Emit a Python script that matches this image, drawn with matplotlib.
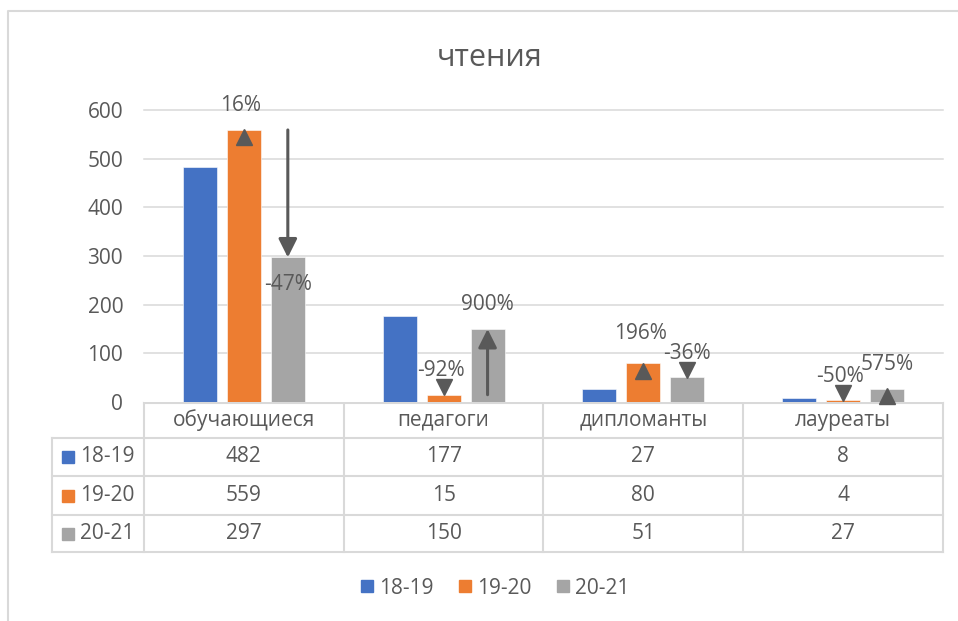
import matplotlib
matplotlib.use("Agg")
import matplotlib.pyplot as plt
import matplotlib.transforms as mtransforms
from matplotlib.lines import Line2D
import numpy as np

plt.rcParams['font.family'] = ['Open Sans', 'DejaVu Sans']

title = "чтения"
categories = ["обучающиеся", "педагоги", "дипломанты", "лауреаты"]
years = ["18-19", "19-20", "20-21"]
v1819 = [482, 177, 27, 8]
v1920 = [559, 15, 80, 4]
v2021 = [297, 150, 51, 27]
series = [v1819, v1920, v2021]
colors = ["#4472C4", "#ED7D31", "#A5A5A5"]
yticks = [0, 100, 200, 300, 400, 500, 600]

# which gray changes get a long arrow instead of a triangle
arrow_cats = [0, 1]

txt = "#595959"
grid = "#D9D9D9"
W, H = 958, 621
fs = 15

fig = plt.figure(figsize=(W / 100, H / 100), dpi=100)

def fx(px):
    return px / W

def fy(py):
    return 1 - py / H

# overlay for frame + table, in pixel coordinates
ov = fig.add_axes([0, 0, 1, 1])
ov.set_xlim(0, W)
ov.set_ylim(H, 0)
ov.axis("off")
ov.plot([8, 8, W + 5], [H + 5, 11, 11], color=grid, lw=1.5, solid_capstyle="butt")

L, R, T, B = 144, 943, 110, 402
ax = fig.add_axes([fx(L), fy(B), fx(R - L), (B - T) / H])
ax.set_xlim(-0.5, len(categories) - 0.5)
ax.set_ylim(0, 600)
for s in ax.spines.values():
    s.set_visible(False)
ax.set_xticks([])
ax.set_yticks(yticks)
ax.set_yticklabels([str(t) for t in yticks], color=txt, fontsize=fs)
ax.tick_params(axis="y", length=0, pad=15)
for t in yticks[1:]:
    ax.axhline(t, color=grid, lw=1.1, zorder=0, clip_on=False)

x = np.arange(len(categories))
offs = [-0.22, 0.0, 0.22]
bw = 0.17
for i, vals in enumerate(series):
    ax.bar(x + offs[i], vals, bw, color=colors[i], edgecolor="white", linewidth=0.4, zorder=2)

mk = "#595959"
up_t = mtransforms.offset_copy(ax.transData, fig=fig, x=0, y=-7.5, units="dots")
dn_t = mtransforms.offset_copy(ax.transData, fig=fig, x=0, y=7.5, units="dots")

for si in [1, 2]:
    prev = series[si - 1]
    cur = series[si]
    for c in range(len(categories)):
        pct = (cur[c] - prev[c]) / prev[c] * 100
        xc = c + offs[si]
        label = "%d%%" % round(pct)
        dy = 24
        if si == 2 and c in arrow_cats:
            ax.annotate("", xy=(xc, cur[c]), xytext=(xc, prev[c]),
                        arrowprops=dict(arrowstyle="-|>,head_length=0.8,head_width=0.4",
                                        color=mk, lw=2.2, shrinkA=0, shrinkB=0,
                                        mutation_scale=14), zorder=4)
            if pct < 0:
                dy = -27
        else:
            if pct >= 0:
                ax.plot([xc], [cur[c]], marker="^", ms=11, color=mk, transform=up_t,
                        zorder=4, clip_on=False)
            else:
                ax.plot([xc], [cur[c]], marker="v", ms=11, color=mk, transform=dn_t,
                        zorder=4, clip_on=False)
            if si == 1 and c == 2:
                dy = 30
        ax.annotate(label, xy=(xc, cur[c]), xytext=(-3 if si == 1 else 0, dy),
                    textcoords="offset pixels", ha="center", va="center",
                    color=txt, fontsize=fs, zorder=5, annotation_clip=False)

# data table
rows_y = [403, 438, 476, 515, 552]
col_x = [52] + [L + (R - L) / len(categories) * i for i in range(len(categories) + 1)]
lw_t = 1.5
ov.plot([L, R], [rows_y[0], rows_y[0]], color=grid, lw=lw_t)
for yy in rows_y[1:]:
    ov.plot([col_x[0], R], [yy, yy], color=grid, lw=lw_t)
ov.plot([col_x[0], col_x[0]], [rows_y[1], rows_y[-1]], color=grid, lw=lw_t)
for xx in col_x[1:]:
    ov.plot([xx, xx], [rows_y[0], rows_y[-1]], color=grid, lw=lw_t)

for c, name in enumerate(categories):
    cx = (col_x[c + 1] + col_x[c + 2]) / 2
    ov.text(cx, (rows_y[0] + rows_y[1]) / 2, name, ha="center", va="center",
            color=txt, fontsize=fs)
for r, vals in enumerate(series):
    cy = (rows_y[r + 1] + rows_y[r + 2]) / 2
    ov.plot([68], [cy], marker="s", ms=8, color=colors[r], linestyle="none")
    ov.text(80, cy, years[r], ha="left", va="center", color=txt, fontsize=fs)
    for c, v in enumerate(vals):
        cx = (col_x[c + 1] + col_x[c + 2]) / 2
        ov.text(cx, cy, str(v), ha="center", va="center", color=txt, fontsize=fs)

fig.text(fx(490), fy(58), title, ha="center", va="center", color=txt, fontsize=22)

handles = [Line2D([], [], marker="s", ms=8, color=col, linestyle="none") for col in colors]
fig.legend(handles, years, loc="center", bbox_to_anchor=(fx(493), fy(588)), ncol=3,
           frameon=False, fontsize=fs, labelcolor=txt, handletextpad=0.1,
           columnspacing=1.0, handlelength=1.0)

fig.savefig("out.png", dpi=100)
